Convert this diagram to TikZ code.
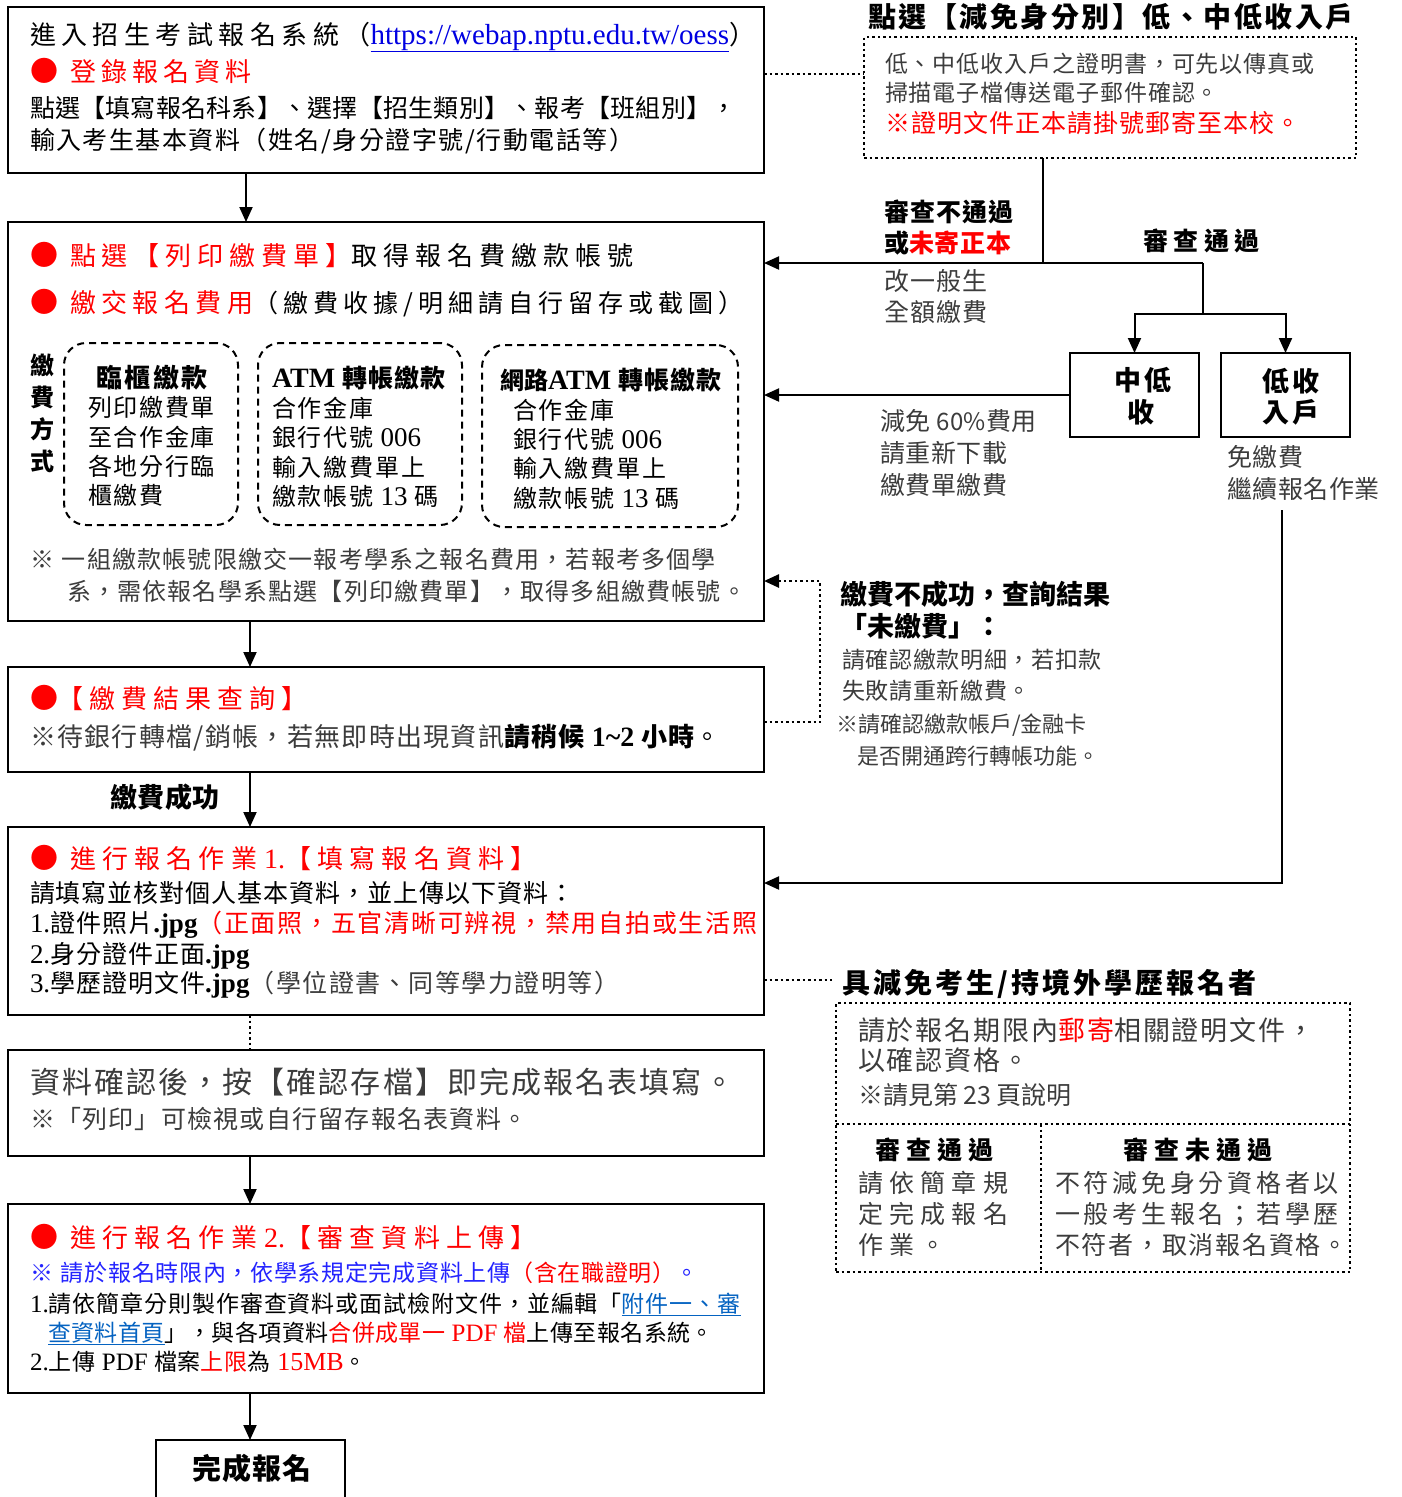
\documentclass[tikz,border=0pt]{standalone}
\usepackage{fontspec}
\setmainfont{Noto Sans CJK TC}
\newfontfamily\en{Liberation Serif}
\usetikzlibrary{arrows.meta}
\definecolor{rd}{RGB}{255,0,0}
\definecolor{gr}{RGB}{60,60,60}
\definecolor{ub}{RGB}{0,0,225}
\definecolor{bl}{RGB}{35,35,255}
\definecolor{lk}{RGB}{5,99,193}
\newcommand\F[2][0]{\fontsize{#2}{#2}\selectfont\addfontfeature{LetterSpace=#1}}
\newcommand\bul[1][12pt]{{\fontsize{28}{28}\selectfont●}\hspace{#1}}
\newcommand\E[2][25]{{\en\fontsize{#1}{#1}\selectfont #2}}
\newcommand\EB[2][27]{{\en\bfseries\fontsize{#1}{#1}\selectfont #2}}
\tikzset{
  bx/.style={draw, line width=2pt, anchor=north west, inner sep=0pt, outer sep=0pt},
  dbx/.style={bx, line width=2pt, dash pattern=on 7pt off 5pt, rounded corners=22pt},
  obx/.style={bx, line width=2.5pt, dash pattern=on 2.5pt off 3pt},
  tx/.style={anchor=base west, inner sep=0pt, outer sep=0pt},
  txc/.style={anchor=base, inner sep=0pt, outer sep=0pt},
  sld/.style={line width=2pt},
  arr/.style={line width=2pt, -{Triangle[length=15pt,width=13pt]}},
  dotl/.style={line width=2.5pt, dash pattern=on 2.5pt off 3pt},
  dotarr/.style={dotl, -{Triangle[length=15pt,width=13pt]}},
}
\begin{document}
\begin{tikzpicture}[x=1pt,y=-1pt]
\useasboundingbox (0,0) rectangle (1402,1497);
% ---------- boxes ----------
\node[bx, minimum width=756pt, minimum height=166pt] (A) at (8,7) {};
\node[bx, minimum width=756pt, minimum height=399pt] (B) at (8,222) {};
\node[bx, minimum width=756pt, minimum height=105pt] (C) at (8,667) {};
\node[bx, minimum width=756pt, minimum height=188pt] (D) at (8,827) {};
\node[bx, minimum width=756pt, minimum height=106pt] (E) at (8,1050) {};
\node[bx, minimum width=756pt, minimum height=189pt] (F) at (8,1204) {};
\node[bx, minimum width=189pt, minimum height=80pt] (G) at (156,1440) {};
\node[obx, minimum width=492pt, minimum height=121pt] (H) at (864,37) {};
\node[bx, minimum width=129pt, minimum height=84pt] (I) at (1070,353) {};
\node[bx, minimum width=129pt, minimum height=84pt] (J) at (1221,353) {};
\node[obx, minimum width=514pt, minimum height=269pt] (K) at (836,1003) {};
\node[dbx, minimum width=174pt, minimum height=182pt] (D1) at (64,343) {};
\node[dbx, minimum width=204pt, minimum height=182pt] (D2) at (258,343) {};
\node[dbx, minimum width=256pt, minimum height=182pt] (D3) at (482,345) {};
% ---------- helper coordinates ----------
\coordinate (xa) at (246,0);
\coordinate (xb) at (250,0);
\coordinate (ya) at (0,74);
\coordinate (hx) at (1043,0);
\coordinate (j1) at (1203,263);
\coordinate (j2) at (1203,314);
\coordinate (js) at (1282,510);
\coordinate (yd) at (0,883);
\coordinate (yb1) at (0,581);
\coordinate (yc1) at (0,722);
\coordinate (kx) at (820,0);
\coordinate (yd2) at (0,980);
\coordinate (de) at (832,980);
\coordinate (y1124) at (0,1124);
\coordinate (x1041) at (1041,0);
% ---------- connectors ----------
\draw[arr] (A.south -| xa) -- (B.north -| xa);
\draw[arr] (B.south -| xb) -- (C.north -| xb);
\draw[arr] (C.south -| xb) -- (D.north -| xb);
\draw[dotl, line width=2pt] (D.south -| xb) -- (E.north -| xb);
\draw[arr] (E.south -| xb) -- (F.north -| xb);
\draw[arr] (F.south -| xb) -- (G.north -| xb);
\draw[dotl] (A.east |- ya) -- (H.west |- ya);
\draw[sld] (H.south -| hx) -- (hx |- j1);
\draw[arr] (j1) -- (B.east |- j1);
\draw[sld] (j1) -- (j2);
\draw[arr] (j2) -| (I.north);
\draw[arr] (j2) -| (J.north);
\draw[arr] (I.west) -- (B.east |- I.west);
\draw[arr] (js) |- (D.east |- yd);
\draw[dotarr] (C.east |- yc1) -| (kx |- yb1) -- (B.east |- yb1);
\draw[dotl] (D.east |- yd2) -- (de);
\draw[dotl] (K.west |- y1124) -- (K.east |- y1124);
\draw[dotl] (x1041 |- y1124) -- (x1041 |- K.south);
% ---------- box A ----------
\node[tx] (a1) at (30,44) {\F[21]{26}進入招生考試報名系統（{\en\fontsize{29}{29}\selectfont\color{ub}\underline{https://webap.nptu.edu.tw/oess}}）};
\node[tx] (a2) at (30,81) {\F[20]{26}\color{rd}\bul 登錄報名資料};
\node[tx] (a3) at (30,117) {\F[1]{25}點選【填寫報名科系】、選擇【招生類別】、報考【班組別】，};
\node[tx] (a4) at (30,149) {\F[6]{25}輸入考生基本資料（姓名/身分證字號/行動電話等）};
% ---------- box B ----------
\node[tx] (b1) at (30,265) {\F[23]{26}{\color{rd}\bul 點選【列印繳費單】}取得報名費繳款帳號};
\node[tx] (b2) at (30,312) {\F[21]{26}{\color{rd}\bul 繳交報名費用}{\F[20]{25}（繳費收據/明細請自行留存或截圖）}};
\node[inner sep=0pt, align=center, font={\bfseries\fontsize{24}{32}\selectfont}] (b3) at (42,413) {繳\\費\\方\\式};
\node[txc] (d1t) at (152,387) {\bfseries\F[8]{26}臨櫃繳款};
\node[tx] (d1a) at (88,416) {\F[7]{24}列印繳費單};
\node[tx] (d1b) at (88,446) {\F[7]{24}至合作金庫};
\node[tx] (d1c) at (88,475) {\F[7]{24}各地分行臨};
\node[tx] (d1d) at (88,504) {\F[7]{24}櫃繳費};
\node[tx] (d2t) at (272,387) {\EB[28]{ATM }\bfseries\F[4]{25}轉帳繳款};
\node[tx] (d2a) at (272,417) {\F[8]{24}合作金庫};
\node[tx] (d2b) at (272,446) {\F[8]{24}銀行代號\E[27]{ 006}};
\node[tx] (d2c) at (272,476) {\F[8]{24}輸入繳費單上};
\node[tx] (d2d) at (272,505) {\F[8]{24}繳款帳號\E[27]{ 13 }碼};
\node[tx] (d3t) at (500,389) {\bfseries\F{24}網路\EB[28]{ATM }\F[4]{25}轉帳繳款};
\node[tx] (d3a) at (513,419) {\F[8]{24}合作金庫};
\node[tx] (d3b) at (513,448) {\F[8]{24}銀行代號\E[27]{ 006}};
\node[tx] (d3c) at (513,477) {\F[8]{24}輸入繳費單上};
\node[tx] (d3d) at (513,507) {\F[8]{24}繳款帳號\E[27]{ 13 }碼};
\node[tx] (b4) at (30,568) {\color{gr}\F[5]{24}※\hspace{8pt}一組繳款帳號限繳交一報考學系之報名費用，若報考多個學};
\node[tx] (b5) at (67,600) {\color{gr}\F[5]{24}系，需依報名學系點選【列印繳費單】，取得多組繳費帳號。};
% ---------- box C ----------
\node[tx] (c1) at (30,708) {\F[23]{26}\color{rd}\bul[0pt]【繳費結果查詢】};
\node[tx] (c2) at (30,746) {\F[5]{26}{\color{gr}※待銀行轉檔/銷帳，若無即時出現資訊}{\bfseries 請稍候\EB[28]{ 1\textasciitilde 2 }小時}。};
\node[tx] (c3) at (110,807) {\bfseries\F[2]{27}繳費成功};
% ---------- box D ----------
\node[tx] (e0) at (30,868) {\F[24]{26}\color{rd}\bul 進行報名作業\E[28]{ 1.}【填寫報名資料】};
\node[tx] (e1) at (30,902) {\F[4]{25}請填寫並核對個人基本資料，並上傳以下資料：};
\node[tx] (e2) at (30,932) {\F[4]{25}\E[27]{1.}證件照片\EB{.jpg}{\color{rd}\F[7]{25}（正面照，五官清晰可辨視，禁用自拍或生活照}};
\node[tx] (e3) at (30,963) {\F[4]{25}\E[27]{2.}身分證件正面\EB{.jpg}};
\node[tx] (e4) at (30,992) {\F[4]{25}\E[27]{3.}學歷證明文件\EB{.jpg}{\color{gr}\F[6]{25}（學位證書、同等學力證明等）}};
% ---------- box E ----------
\node[tx] (f0) at (30,1093) {\color{gr}\F[7]{30}資料確認後，按【確認存檔】即完成報名表填寫。};
\node[tx] (f1) at (30,1128) {\color{gr}\F[5]{25}※「列印」可檢視或自行留存報名表資料。};
% ---------- box F ----------
\node[tx] (g0) at (30,1247) {\F[24]{26}\color{rd}\bul 進行報名作業\E[28]{ 2.}【審查資料上傳】};
\node[tx] (g1) at (30,1281) {\F[3]{23}{\color{bl}※\hspace{8pt}請於報名時限內，依學系規定完成資料上傳}{\color{rd}（含在職證明）}{\color{bl}。}};
\node[tx] (g2) at (30,1312) {\F[4]{23}\E[25]{1.}請依簡章分則製作審查資料或面試檢附文件，並編輯「{\color{lk}\underline{附件一、審}}};
\node[tx] (g3) at (48,1341) {\F[2]{23}{\color{lk}\underline{查資料首頁}}」，與各項資料{\color{rd}合併成單一\E{ PDF }檔}上傳至報名系統。};
\node[tx] (g4) at (30,1370) {\F[4]{23}\E{2.}上傳\E{ PDF }檔案{\color{rd}上限}為{\color{rd}\E[26]{ 15MB}}。};
% ---------- box G ----------
\node[txc] (h0) at (252,1479) {\bfseries\F[3]{29}完成報名};
% ---------- right side ----------
\node[tx] (r1) at (868,27) {\bfseries\F[9]{28}點選【減免身分別】低、中低收入戶};
\node[tx] (h1) at (885,72.5) {\color{gr}\F[4]{23}低、中低收入戶之證明書，可先以傳真或};
\node[tx] (h2) at (885,101.5) {\color{gr}\F[4]{23}掃描電子檔傳送電子郵件確認。};
\node[tx] (h3) at (885,132) {\color{rd}\F[4]{25}※證明文件正本請掛號郵寄至本校。};
\node[tx] (r2) at (884,221) {\bfseries\F[4]{25}審查不通過};
\node[tx] (r3) at (884,252) {\bfseries\F[4]{25}或{\color{rd}未寄正本}};
\node[tx] (r4) at (884,290) {\color{gr}\F[4]{25}改一般生};
\node[tx] (r5) at (884,321) {\color{gr}\F[4]{25}全額繳費};
\node[tx] (r6) at (1143,250) {\bfseries\F[22]{25}審查通過};
\node[txc] (it1) at (1143,390) {\bfseries\F[8]{27}中低};
\node[txc] (it2) at (1141,422) {\bfseries\F[8]{27}收};
\node[txc] (jt1) at (1291,391) {\bfseries\F[8]{27}低收};
\node[txc] (jt2) at (1291,422) {\bfseries\F[8]{27}入戶};
\node[tx] (r7) at (880,430) {\color{gr}\F[2]{25}減免{\fontsize{24}{24}\selectfont\ 60\%}費用};
\node[tx] (r8) at (880,462) {\color{gr}\F[2]{25}請重新下載};
\node[tx] (r9) at (880,494) {\color{gr}\F[2]{25}繳費單繳費};
\node[tx] (r10) at (1227,466) {\color{gr}\F[2]{25}免繳費};
\node[tx] (r11) at (1227,498) {\color{gr}\F[2]{25}繼續報名作業};
\node[tx] (s1) at (840,604) {\bfseries\F{27}繳費不成功，查詢結果};
\node[tx] (s2) at (840,636) {\bfseries\F{27}「未繳費」：};
\node[tx] (s3) at (842,668.5) {\color{gr}\F[3]{23}請確認繳款明細，若扣款};
\node[tx] (s4) at (842,699.5) {\color{gr}\F[3]{23}失敗請重新繳費。};
\node[tx] (s5) at (836,732) {\color{gr}\F{22}※請確認繳款帳戶/金融卡};
\node[tx] (s6) at (857,764) {\color{gr}\F{22}是否開通跨行轉帳功能。};
\node[tx] (k0) at (842,993) {\bfseries\F[11]{28}具減免考生/持境外學歷報名者};
\node[tx] (k1) at (858,1040) {\color{gr}\F[7]{27}請於報名期限內{\color{rd}郵寄}相關證明文件，};
\node[tx] (k2) at (858,1070) {\color{gr}\F[7]{27}以確認資格。};
\node[tx] (k3) at (858,1104) {\color{gr}\F{25}※請見第 23 頁說明};
\node[tx] (k4) at (875,1159) {\bfseries\F[24]{25}審查通過};
\node[tx] (k5) at (858,1192) {\color{gr}\F[25]{25}請依簡章規};
\node[tx] (k6) at (858,1223) {\color{gr}\F[25]{25}定完成報名};
\node[tx] (k7) at (858,1254) {\color{gr}\F[25]{25}作業。};
\node[tx] (k8) at (1123,1159) {\bfseries\F[24]{25}審查未通過};
\node[tx] (k9) at (1055,1192) {\color{gr}\F[15]{25}不符減免身分資格者以};
\node[tx] (k10) at (1055,1223) {\color{gr}\F[15]{25}一般考生報名；若學歷};
\node[tx] (k11) at (1055,1254) {\color{gr}\F[7]{25}不符者，取消報名資格。};
\end{tikzpicture}
\end{document}
